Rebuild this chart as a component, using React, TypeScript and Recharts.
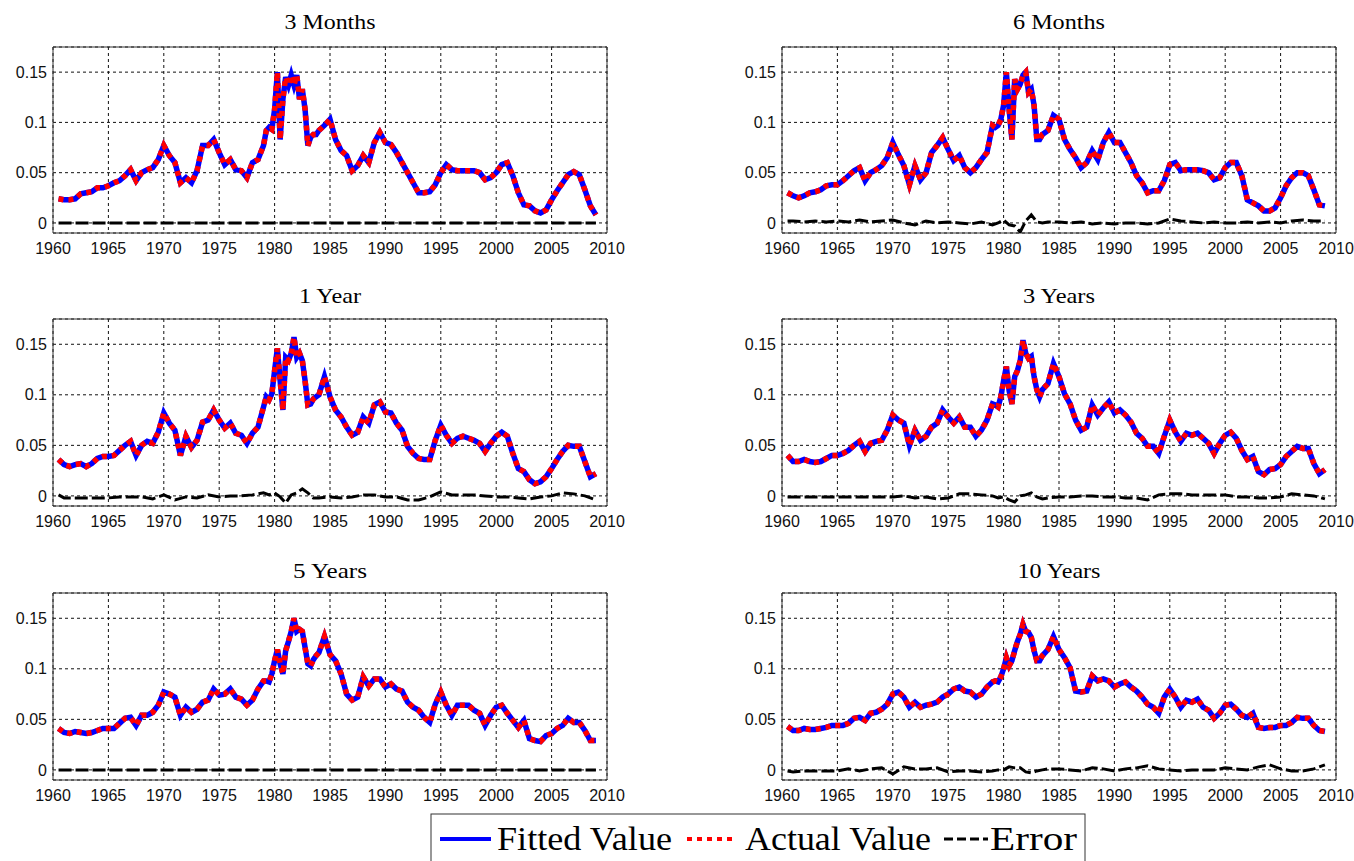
import { LineChart, Line, XAxis, YAxis, CartesianGrid, ReferenceArea } from "recharts";

// sample dates: half-yearly, quarterly around the 1979-84 spikes
const YEARS = [
  1960.5, 1961, 1961.5, 1962, 1962.5, 1963, 1963.5, 1964, 1964.5, 1965,
  1965.5, 1966, 1966.5, 1967, 1967.5, 1968, 1968.5, 1969, 1969.5, 1970,
  1970.5, 1971, 1971.5, 1972, 1972.5, 1973, 1973.5, 1974, 1974.5, 1975,
  1975.5, 1976, 1976.5, 1977, 1977.5, 1978, 1978.5, 1979,
  1979.25, 1979.5, 1979.75, 1980, 1980.25, 1980.5, 1980.75, 1981, 1981.25, 1981.5,
  1981.75, 1982, 1982.25, 1982.5, 1982.75, 1983, 1983.25, 1983.5, 1983.75, 1984,
  1984.5, 1985, 1985.5, 1986, 1986.5, 1987, 1987.5, 1988, 1988.5, 1989,
  1989.5, 1990, 1990.5, 1991, 1991.5, 1992, 1992.5, 1993, 1993.5, 1994,
  1994.5, 1995, 1995.5, 1996, 1996.5, 1997, 1997.5, 1998, 1998.5, 1999,
  1999.5, 2000, 2000.5, 2001, 2001.5, 2002, 2002.5, 2003, 2003.5, 2004,
  2004.5, 2005, 2005.5, 2006, 2006.5, 2007, 2007.5, 2008, 2008.5, 2009,
];

const RATE_3M = [
  0.024, 0.023, 0.023, 0.024, 0.029, 0.030, 0.031, 0.035, 0.035, 0.037,
  0.040, 0.042, 0.047, 0.053, 0.042, 0.050, 0.053, 0.055, 0.063, 0.077,
  0.067, 0.060, 0.040, 0.045, 0.040, 0.052, 0.077, 0.077, 0.083, 0.070,
  0.058, 0.063, 0.053, 0.052, 0.045, 0.060, 0.063, 0.077,
  0.092, 0.095, 0.093, 0.113, 0.150, 0.083, 0.123, 0.145, 0.137, 0.147,
  0.137, 0.147, 0.123, 0.133, 0.113, 0.077, 0.085, 0.088, 0.088, 0.092,
  0.097, 0.103, 0.083, 0.072, 0.067, 0.052, 0.057, 0.067, 0.060, 0.080,
  0.090, 0.080, 0.078, 0.070, 0.060, 0.050, 0.040, 0.030, 0.030, 0.031,
  0.038, 0.050, 0.058, 0.053, 0.052, 0.052, 0.052, 0.052, 0.050, 0.043,
  0.045, 0.050, 0.058, 0.060, 0.047, 0.030, 0.018, 0.017, 0.012, 0.010,
  0.013, 0.023, 0.032, 0.040, 0.048, 0.051, 0.048, 0.033, 0.017, 0.008,
];

const RATE_6M = [
  0.030, 0.027, 0.025, 0.027, 0.030, 0.031, 0.033, 0.037, 0.038, 0.038,
  0.042, 0.047, 0.052, 0.055, 0.042, 0.050, 0.053, 0.057, 0.065, 0.080,
  0.068, 0.057, 0.038, 0.057, 0.043, 0.050, 0.070, 0.077, 0.085, 0.073,
  0.062, 0.067, 0.055, 0.050, 0.055, 0.063, 0.070, 0.097,
  0.095, 0.097, 0.103, 0.117, 0.150, 0.113, 0.083, 0.143, 0.133, 0.138,
  0.147, 0.150, 0.130, 0.133, 0.117, 0.083, 0.083, 0.088, 0.090, 0.092,
  0.107, 0.103, 0.083, 0.073, 0.065, 0.055, 0.060, 0.072, 0.063, 0.080,
  0.090, 0.080, 0.080, 0.070, 0.060, 0.047, 0.040, 0.030, 0.032, 0.032,
  0.042, 0.058, 0.060, 0.052, 0.053, 0.053, 0.053, 0.052, 0.050, 0.043,
  0.045, 0.055, 0.060, 0.060, 0.047, 0.023, 0.020, 0.017, 0.012, 0.012,
  0.015, 0.025, 0.037, 0.045, 0.050, 0.050, 0.047, 0.033, 0.018, 0.017,
];

const RATE_1Y = [
  0.036, 0.031, 0.029, 0.031, 0.032, 0.029, 0.032, 0.037, 0.039, 0.039,
  0.040, 0.045, 0.050, 0.054, 0.040, 0.050, 0.054, 0.052, 0.063, 0.082,
  0.072, 0.065, 0.040, 0.059, 0.048, 0.055, 0.073, 0.075, 0.085, 0.075,
  0.067, 0.072, 0.062, 0.060, 0.052, 0.062, 0.068, 0.088,
  0.098, 0.095, 0.101, 0.124, 0.146, 0.114, 0.085, 0.137, 0.134, 0.141,
  0.157, 0.137, 0.141, 0.134, 0.114, 0.090, 0.091, 0.096, 0.098, 0.100,
  0.118, 0.098, 0.085, 0.078, 0.068, 0.060, 0.063, 0.078, 0.072, 0.090,
  0.093, 0.083, 0.082, 0.072, 0.065, 0.049, 0.042, 0.037, 0.036, 0.036,
  0.055, 0.070, 0.060, 0.052, 0.057, 0.059, 0.057, 0.055, 0.052, 0.044,
  0.052, 0.059, 0.063, 0.059, 0.042, 0.027, 0.024, 0.016, 0.012, 0.014,
  0.019, 0.027, 0.036, 0.044, 0.050, 0.049, 0.049, 0.034, 0.019, 0.022,
];

const RATE_3Y = [
  0.040, 0.034, 0.034, 0.036, 0.034, 0.033, 0.034, 0.037, 0.040, 0.040,
  0.042, 0.045, 0.050, 0.054, 0.044, 0.052, 0.054, 0.055, 0.065, 0.080,
  0.075, 0.072, 0.050, 0.065, 0.055, 0.059, 0.068, 0.072, 0.085, 0.078,
  0.072, 0.078, 0.068, 0.068, 0.059, 0.065, 0.075, 0.091,
  0.090, 0.088, 0.098, 0.114, 0.128, 0.104, 0.091, 0.118, 0.124, 0.134,
  0.154, 0.141, 0.136, 0.138, 0.118, 0.105, 0.098, 0.105, 0.108, 0.111,
  0.131, 0.118, 0.101, 0.091, 0.075, 0.065, 0.068, 0.090, 0.080, 0.087,
  0.093, 0.082, 0.085, 0.080, 0.073, 0.062, 0.057, 0.049, 0.049, 0.042,
  0.059, 0.075, 0.063, 0.054, 0.062, 0.060, 0.062, 0.057, 0.052, 0.042,
  0.052, 0.060, 0.063, 0.057, 0.045, 0.036, 0.039, 0.024, 0.021, 0.026,
  0.027, 0.031, 0.039, 0.044, 0.049, 0.047, 0.047, 0.032, 0.022, 0.026,
];

const RATE_5Y = [
  0.041, 0.037, 0.036, 0.038, 0.037, 0.036, 0.037, 0.039, 0.041, 0.041,
  0.041, 0.046, 0.051, 0.052, 0.044, 0.054, 0.054, 0.057, 0.064, 0.077,
  0.075, 0.072, 0.054, 0.062, 0.057, 0.060, 0.067, 0.069, 0.080, 0.074,
  0.075, 0.080, 0.072, 0.070, 0.064, 0.069, 0.080, 0.088,
  0.088, 0.087, 0.095, 0.108, 0.119, 0.105, 0.095, 0.118, 0.127, 0.137,
  0.150, 0.137, 0.139, 0.137, 0.121, 0.105, 0.103, 0.109, 0.113, 0.116,
  0.132, 0.114, 0.108, 0.095, 0.075, 0.069, 0.072, 0.092, 0.083, 0.090,
  0.090, 0.082, 0.085, 0.080, 0.078, 0.067, 0.062, 0.059, 0.052, 0.047,
  0.065, 0.077, 0.064, 0.054, 0.064, 0.064, 0.064, 0.059, 0.056, 0.044,
  0.054, 0.062, 0.064, 0.056, 0.049, 0.042, 0.049, 0.031, 0.029, 0.028,
  0.034, 0.036, 0.041, 0.044, 0.051, 0.047, 0.047, 0.039, 0.029, 0.029,
];

const RATE_10Y = [
  0.043, 0.039, 0.039, 0.041, 0.040, 0.040, 0.041, 0.042, 0.044, 0.044,
  0.044, 0.046, 0.051, 0.052, 0.049, 0.056, 0.057, 0.060, 0.065, 0.075,
  0.077, 0.072, 0.062, 0.067, 0.062, 0.064, 0.065, 0.067, 0.072, 0.075,
  0.080, 0.082, 0.078, 0.077, 0.072, 0.075, 0.082, 0.087,
  0.088, 0.087, 0.092, 0.100, 0.111, 0.103, 0.108, 0.118, 0.127, 0.134,
  0.144, 0.137, 0.136, 0.131, 0.118, 0.108, 0.108, 0.113, 0.116, 0.119,
  0.132, 0.119, 0.111, 0.101, 0.078, 0.077, 0.078, 0.093, 0.088, 0.090,
  0.088, 0.082, 0.085, 0.087, 0.082, 0.078, 0.072, 0.065, 0.062, 0.056,
  0.072, 0.080, 0.072, 0.062, 0.069, 0.067, 0.070, 0.062, 0.059, 0.051,
  0.056, 0.064, 0.065, 0.060, 0.054, 0.052, 0.056, 0.042, 0.041, 0.042,
  0.042, 0.044, 0.044, 0.047, 0.052, 0.051, 0.051, 0.044, 0.039, 0.038,
];

// error sampled yearly, half-yearly around 1980-83
const ERR_YEARS = [
  1960.5, 1961, 1962, 1963, 1964, 1965, 1966, 1967, 1968, 1969,
  1970, 1971, 1972, 1973, 1974, 1975, 1976, 1977, 1978, 1979,
  1979.5, 1980, 1980.5, 1981, 1981.5, 1982, 1982.5, 1983, 1983.5,
  1984, 1985, 1986, 1987, 1988, 1989, 1990, 1991, 1992, 1993,
  1994, 1995, 1996, 1997, 1998, 1999, 2000, 2001, 2002, 2003,
  2004, 2005, 2006, 2007, 2008, 2009,
];

const ERR_6M = [
  0.002, 0.002, 0.001, 0.002, 0.001, 0.002, 0.001, 0.003, 0.001, 0.002,
  0.003, 0.000, -0.002, 0.002, 0.000, 0.001, 0.000, -0.001, 0.001, -0.002,
  0.000, 0.003, -0.002, -0.003, -0.009, 0.002, 0.008, 0.001, 0.000,
  0.001, 0.001, 0.000, 0.001, -0.001, 0.000, -0.001, 0.000, 0.000, -0.001,
  0.000, 0.004, 0.002, 0.001, 0.000, 0.001, 0.000, 0.000, 0.001, 0.000,
  0.001, 0.000, 0.002, 0.003, 0.002, 0.002,
];

const ERR_1Y = [
  0.001, -0.002, -0.002, -0.002, -0.002, -0.002, -0.001, -0.001, -0.001, -0.003,
  0.001, -0.004, -0.001, -0.002, 0.001, -0.001, 0.000, 0.000, 0.001, 0.003,
  0.001, 0.003, -0.001, -0.007, 0.001, 0.003, 0.007, 0.003, -0.002,
  -0.002, -0.001, -0.002, -0.001, 0.001, 0.001, -0.001, -0.001, -0.004, -0.004,
  -0.001, 0.004, 0.001, 0.001, 0.001, 0.000, -0.001, -0.001, -0.002, -0.003,
  -0.001, 0.000, 0.003, 0.002, 0.000, -0.004,
];

const ERR_3Y = [
  -0.001, -0.001, -0.001, -0.001, -0.001, -0.001, -0.001, -0.001, -0.001, -0.001,
  -0.001, 0.000, -0.002, -0.001, -0.003, -0.002, 0.002, 0.002, 0.001, 0.000,
  -0.002, -0.001, -0.004, -0.006, 0.000, 0.001, 0.003, -0.001, -0.003,
  -0.002, -0.001, -0.001, 0.000, 0.000, -0.001, -0.001, -0.002, -0.002, -0.004,
  0.001, 0.002, 0.002, 0.001, 0.001, 0.001, 0.001, -0.001, -0.001, -0.002,
  -0.002, -0.001, 0.002, 0.001, 0.000, -0.003,
];

const ERR_10Y = [
  -0.001, -0.002, -0.001, -0.001, -0.001, -0.001, 0.001, -0.001, 0.001, 0.002,
  -0.004, 0.003, 0.001, 0.001, 0.002, -0.002, -0.001, -0.001, -0.002, -0.001,
  0.000, 0.000, 0.003, 0.002, 0.002, -0.002, -0.003, -0.001, 0.000,
  0.001, 0.001, 0.000, -0.001, 0.002, 0.001, -0.001, 0.001, 0.002, 0.004,
  0.001, 0.000, -0.001, 0.000, 0.000, 0.000, 0.002, 0.001, 0.000, 0.003,
  0.005, 0.001, -0.001, -0.001, 0.001, 0.005,
];

// 3M and 5Y error is flat zero
const FLAT_ERR_YEARS = [1960.5, 2009];
const FLAT_ERR = [0, 0];

const X_TICKS = [1960, 1965, 1970, 1975, 1980, 1985, 1990, 1995, 2000, 2005, 2010];
const Y_TICKS = [0, 0.05, 0.1, 0.15];

const PANELS = [
  { title: "3 Months", rates: RATE_3M, errYears: FLAT_ERR_YEARS, err: FLAT_ERR, titleW: 91 },
  { title: "6 Months", rates: RATE_6M, errYears: ERR_YEARS, err: ERR_6M, titleW: 92 },
  { title: "1 Year", rates: RATE_1Y, errYears: ERR_YEARS, err: ERR_1Y, titleW: 62 },
  { title: "3 Years", rates: RATE_3Y, errYears: ERR_YEARS, err: ERR_3Y, titleW: 72 },
  { title: "5 Years", rates: RATE_5Y, errYears: FLAT_ERR_YEARS, err: FLAT_ERR, titleW: 74 },
  { title: "10 Years", rates: RATE_10Y, errYears: ERR_YEARS, err: ERR_10Y, titleW: 83 },
];

const COL_LEFT = [53, 782];
const ROW_TOP = [47, 319, 593];
const ROW_H = [186, 187, 187];
const TITLE_Y = [29, 303, 578];
const BOX_W = 554;
const AXIS_W = 53;

const SERIF = "'Liberation Serif', 'Times New Roman', serif";
const SANS = "'Liberation Sans', Arial, sans-serif";

function Panel({ idx }: { idx: number }) {
  const p = PANELS[idx];
  const left = COL_LEFT[idx % 2];
  const top = ROW_TOP[Math.floor(idx / 2)];
  const h = ROW_H[Math.floor(idx / 2)];

  const rows = YEARS.map((t, i) => ({ t, fitted: p.rates[i], actual: p.rates[i] }));
  const errRows = p.errYears.map((t, i) => ({ t, err: p.err[i] }));

  const tick = { fill: "#111", fontSize: 16, fontFamily: SANS };

  return (
    <div style={{ position: "absolute", left: left - AXIS_W, top: top - 10 }}>
      <LineChart
        width={AXIS_W + BOX_W + 20}
        height={10 + h + 30}
        data={rows}
        margin={{ top: 10, right: 20, bottom: 0, left: 0 }}
      >
        <CartesianGrid stroke="#111" strokeDasharray="3 3" />
        <XAxis
          dataKey="t"
          type="number"
          domain={[1960, 2010]}
          ticks={X_TICKS}
          interval={0}
          allowDataOverflow
          axisLine={false}
          tickLine={false}
          tickSize={6}
          tickMargin={4}
          height={30}
          tick={tick}
        />
        <YAxis
          type="number"
          domain={[-0.01, 0.175]}
          ticks={Y_TICKS}
          interval={0}
          allowDataOverflow
          axisLine={false}
          tickLine={false}
          tickSize={4}
          tickMargin={2}
          width={AXIS_W}
          tick={tick}
        />
        <ReferenceArea x1={1960} x2={2010} y1={-0.01} y2={0.175} fill="none" stroke="#333" strokeWidth={1} />
        <Line
          data={errRows}
          dataKey="err"
          type="linear"
          stroke="#000"
          strokeWidth={3}
          strokeDasharray="13 4"
          dot={false}
          isAnimationActive={false}
        />
        <Line
          dataKey="fitted"
          type="linear"
          stroke="#0000ff"
          strokeWidth={5.5}
          dot={false}
          isAnimationActive={false}
        />
        <Line
          dataKey="actual"
          type="linear"
          stroke="#ff0000"
          strokeWidth={5.5}
          strokeDasharray="5 5"
          dot={false}
          isAnimationActive={false}
        />
      </LineChart>
    </div>
  );
}

export default function App() {
  return (
    <div
      style={{
        position: "absolute",
        left: 0,
        top: 0,
        width: 1354,
        height: 861,
        background: "#fff",
        overflow: "hidden",
      }}
    >
      {PANELS.map((_, i) => (
        <Panel key={i} idx={i} />
      ))}

      <svg
        width={1354}
        height={861}
        style={{ position: "absolute", left: 0, top: 0, pointerEvents: "none" }}
      >
        {PANELS.map((p, i) => (
          <text
            key={p.title}
            x={COL_LEFT[i % 2] + BOX_W / 2}
            y={TITLE_Y[Math.floor(i / 2)]}
            textAnchor="middle"
            fontFamily={SERIF}
            fontSize={21}
            textLength={p.titleW}
            lengthAdjust="spacingAndGlyphs"
            fill="#000"
          >
            {p.title}
          </text>
        ))}

        {/* legend */}
        <rect x={431} y={814} width={654} height={60} fill="#fff" stroke="#333" strokeWidth={1} />
        <line x1={440} x2={491} y1={839} y2={839} stroke="#0000ff" strokeWidth={4} />
        <text x={497} y={850} fontFamily={SERIF} fontSize={33} textLength={175} lengthAdjust="spacingAndGlyphs">
          Fitted Value
        </text>
        <line x1={687} x2={733} y1={839} y2={839} stroke="#ff0000" strokeWidth={4} strokeDasharray="5 5" />
        <text x={745} y={850} fontFamily={SERIF} fontSize={33} textLength={186} lengthAdjust="spacingAndGlyphs">
          Actual Value
        </text>
        <line x1={944} x2={988} y1={839} y2={839} stroke="#000" strokeWidth={3} strokeDasharray="9 4" />
        <text x={990} y={850} fontFamily={SERIF} fontSize={33} textLength={87} lengthAdjust="spacingAndGlyphs">
          Error
        </text>
      </svg>
    </div>
  );
}
